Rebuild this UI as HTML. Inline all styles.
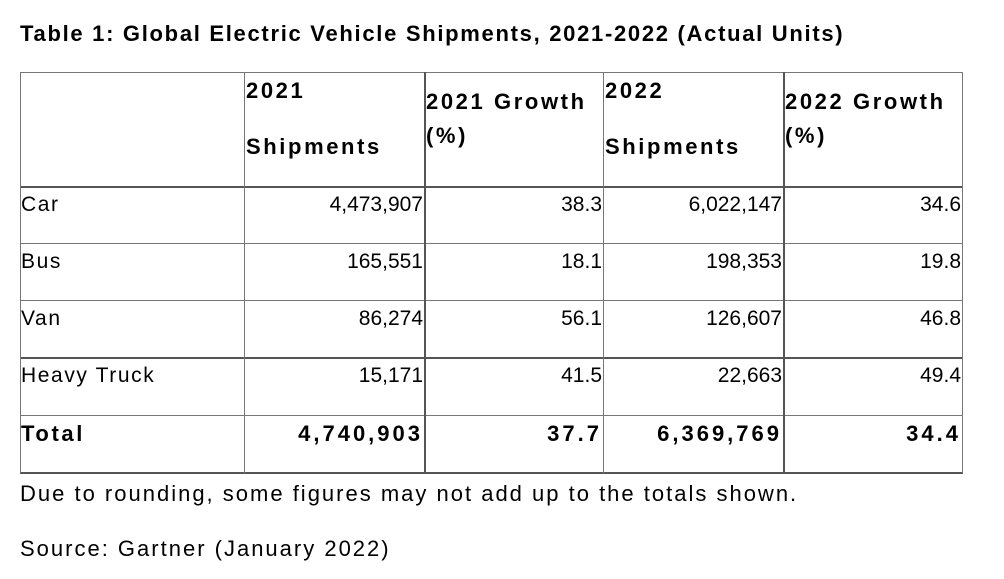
<!DOCTYPE html>
<html><head><meta charset="utf-8"><style>
body{margin:0;width:1004px;height:579px;background:#fff;font-family:"Liberation Sans",sans-serif;color:#000;position:relative;overflow:hidden}
.t{position:absolute;white-space:nowrap}
.h{position:absolute;background:#777}
.title{left:20px;top:21px;font-size:22px;font-weight:bold;letter-spacing:1.7px}
.c{position:absolute;font-size:21px;line-height:24px;white-space:nowrap}
.r{text-align:right}
.b{font-weight:bold;font-size:22px}
.lbl{letter-spacing:1.6px}
.hd{letter-spacing:2.6px}
.bn{letter-spacing:3px}
.foot{font-size:22px;letter-spacing:2px}
</style></head><body>
<div class="t title">Table 1: Global Electric Vehicle Shipments, 2021-2022 (Actual Units)</div>
<div id="tbl"></div>
<div class="t foot" style="left:20px;top:481px">Due to rounding, some figures may not add up to the totals shown.</div>
<div class="t foot" style="left:20px;top:536px">Source: Gartner (January 2022)</div>
<script>
const categories=["Car","Bus","Van","Heavy Truck","Total"];
const ship2021=["4,473,907","165,551","86,274","15,171","4,740,903"];
const growth2021=["38.3","18.1","56.1","41.5","37.7"];
const ship2022=["6,022,147","198,353","126,607","22,663","6,369,769"];
const growth2022=["34.6","19.8","46.8","49.4","34.4"];
const tbl=document.getElementById('tbl');
const cols=[20,244,424,603,783,962];
const rows=[72,186,243,300,357,415,472];
function line(x,y,w,h,dark){const d=document.createElement('div');d.className='h';d.style.cssText=`left:${x}px;top:${y}px;width:${w}px;height:${h}px;`+(dark?'background:#555':'');


tbl.appendChild(d);}
rows.forEach((y,i)=>line(20,y,943,(i==1||i==4||i==6)?2:1,(i==1||i==4||i==6)));
cols.forEach((x,i)=>line(x,72,(i==2||i==4)?2:1,401,(i==2||i==4)));
function txt(s,x,y,cls,name){const d=document.createElement('div');d.className='c '+cls;d.textContent=s;d.style.left=x+'px';d.style.top=y+'px';


tbl.appendChild(d);return d;}
txt("2021",246,79,'b hd','header-2021-year');
txt("Shipments",246,135,'b hd','header-2021-shipments');
txt("2021 Growth",426,90,'b hd','header-2021-growth');
txt("(%)",426,124,'b hd','header-2021-growth-unit');
txt("2022",605,79,'b hd','header-2022-year');
txt("Shipments",605,135,'b hd','header-2022-shipments');
txt("2022 Growth",785,90,'b hd','header-2022-growth');
txt("(%)",785,124,'b hd','header-2022-growth-unit');
const data=[ship2021,growth2021,ship2022,growth2022];
categories.forEach((c,i)=>{const y=rows[i+1]+7;const bold=i==4?'b bn':'';
txt(c,21,y,(i==4?'b hd':'lbl'),'row-label');
data.forEach((arr,j)=>{const d=txt(arr[i],0,y,'r '+bold,'cell-value');d.style.left='auto';d.style.right=(1004-cols[j+2]+1+(i==4?0:0))+'px';});});
</script>
</body></html>
